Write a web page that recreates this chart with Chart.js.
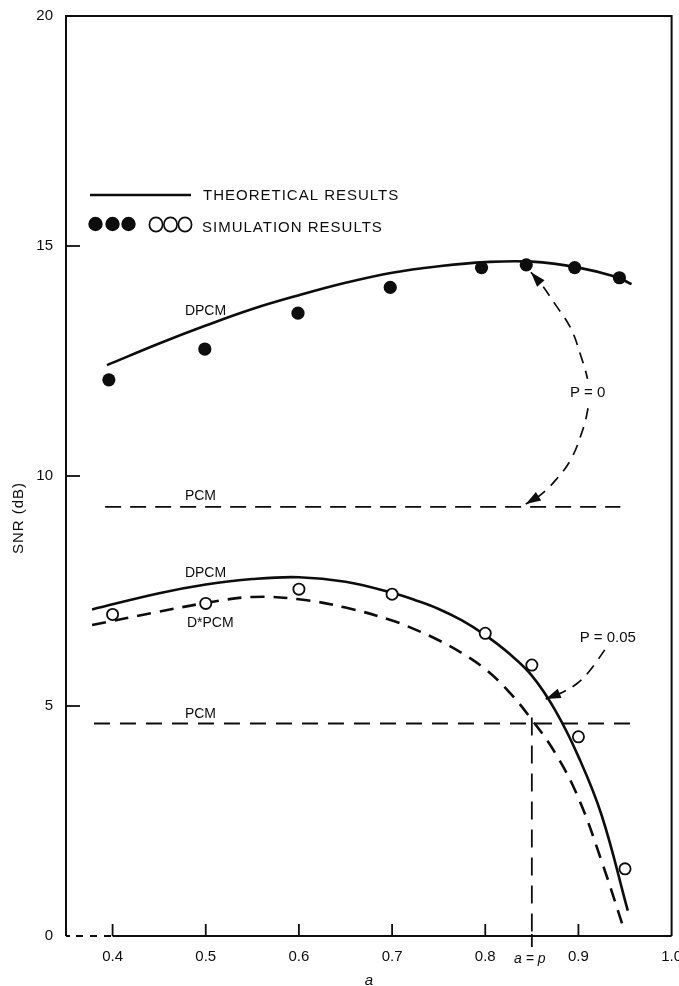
<!DOCTYPE html>
<html><head><meta charset="utf-8">
<script src="https://cdn.jsdelivr.net/npm/chart.js@4.4.1/dist/chart.umd.min.js"></script>
<style>html,body{margin:0;padding:0;background:#fff}canvas{display:block}</style>
</head><body>
<canvas id="c" width="679" height="986"></canvas>
<script>
// ---------- data ----------
const xTicks = [0.4, 0.5, 0.6, 0.7, 0.8, 0.9, 1.0];
const yTicks = [0, 5, 10, 15, 20];
// P = 0
const simX0  = [0.396, 0.499, 0.599, 0.698, 0.796, 0.844, 0.896, 0.944];
const simY0  = [12.09, 12.76, 13.54, 14.10, 14.53, 14.59, 14.53, 14.31];
const theoX0 = [0.394, 0.45, 0.5, 0.55, 0.6, 0.65, 0.7, 0.75, 0.8, 0.85, 0.9, 0.94, 0.957];
const theoY0 = [12.41, 12.88, 13.27, 13.63, 13.93, 14.20, 14.42, 14.56, 14.65, 14.66, 14.53, 14.33, 14.17];
const pcmX0  = [0.392, 0.945];
const pcmY0  = [9.33, 9.33];
// P = 0.05
const simX5   = [0.4, 0.5, 0.6, 0.7, 0.8, 0.85, 0.9, 0.95];
const simY5   = [6.99, 7.23, 7.54, 7.43, 6.58, 5.89, 4.33, 1.46];
const theoX5  = [0.378, 0.45, 0.5, 0.55, 0.6, 0.65, 0.7, 0.725, 0.75, 0.775, 0.8, 0.825, 0.85, 0.875, 0.9, 0.925, 0.953];
const theoY5  = [7.10, 7.45, 7.64, 7.76, 7.80, 7.70, 7.46, 7.30, 7.11, 6.86, 6.54, 6.15, 5.66, 4.91, 3.90, 2.62, 0.55];
const dstarX5 = [0.378, 0.45, 0.5, 0.55, 0.6, 0.65, 0.7, 0.725, 0.75, 0.775, 0.8, 0.825, 0.85, 0.875, 0.9, 0.925, 0.948];
const dstarY5 = [6.76, 7.05, 7.24, 7.37, 7.32, 7.14, 6.86, 6.66, 6.43, 6.15, 5.80, 5.32, 4.70, 3.98, 3.00, 1.62, 0.20];
const pcmX5   = [0.38, 0.959];
const pcmY5   = [4.62, 4.62];
const aEqualsP = 0.85;
const aEqualsPLineY = [4.75, 0];
// annotation arrows (data coordinates)
const arcP0X = [0.849, 0.859, 0.8755, 0.8916, 0.9023, 0.9099, 0.9109, 0.9099, 0.9034, 0.8916, 0.8755, 0.8594, 0.8435];
const arcP0Y = [14.43, 14.20, 13.72, 13.22, 12.63, 12.09, 11.76, 11.43, 10.93, 10.35, 9.91, 9.59, 9.39];
const arcP5X = [0.9282, 0.9207, 0.9110, 0.8992, 0.8831, 0.8649];
const arcP5Y = [6.22, 6.00, 5.74, 5.50, 5.30, 5.15];

// ---------- helpers ----------
const pts = (xs, ys) => xs.map((x, i) => ({x, y: ys[i]}));
const INK = '#0d0d0d';
const FONT = '"Liberation Sans", Arial, Helvetica, sans-serif';

const labels = [
  {text: 'DPCM',     x: 0.4776, y: 13.50, align: 'left'},
  {text: 'PCM',      x: 0.4776, y: 9.48,  align: 'left'},
  {text: 'DPCM',     x: 0.4776, y: 7.80,  align: 'left'},
  {text: 'D*PCM',    x: 0.4798, y: 6.72,  align: 'left'},
  {text: 'PCM',      x: 0.4776, y: 4.74,  align: 'left'},
  {text: 'P = 0',    x: 0.9099, y: 11.72, align: 'center', bg: true, size: 15},
  {text: 'P = 0.05', x: 0.9013, y: 6.40,  align: 'left', size: 15}
];

function arrowHead(ctx, x0, y0, x1, y1, len, half) {
  const a = Math.atan2(y1 - y0, x1 - x0);
  ctx.beginPath();
  ctx.moveTo(x1, y1);
  ctx.lineTo(x1 - len * Math.cos(a) + half * Math.sin(a), y1 - len * Math.sin(a) - half * Math.cos(a));
  ctx.lineTo(x1 - len * Math.cos(a) - half * Math.sin(a), y1 - len * Math.sin(a) + half * Math.cos(a));
  ctx.closePath();
  ctx.fill();
}

const decor = {
  id: 'decor',
  afterDraw(chart) {
    const ctx = chart.ctx, xs = chart.scales.x, ys = chart.scales.y;
    const {left, right, top, bottom} = chart.chartArea;
    ctx.save();
    ctx.strokeStyle = INK; ctx.fillStyle = INK;
    // frame
    ctx.lineWidth = 2;
    ctx.setLineDash([]);
    ctx.beginPath();
    ctx.moveTo(left, bottom); ctx.lineTo(left, top); ctx.lineTo(right, top); ctx.lineTo(right, bottom);
    ctx.stroke();
    const x04 = xs.getPixelForValue(xTicks[0]);
    ctx.beginPath(); ctx.moveTo(x04, bottom); ctx.lineTo(right, bottom); ctx.stroke();
    ctx.beginPath(); ctx.moveTo(left, bottom); ctx.lineTo(left + 4, bottom); ctx.stroke();
    ctx.setLineDash([7, 7]);
    ctx.beginPath(); ctx.moveTo(left + 10, bottom); ctx.lineTo(x04, bottom); ctx.stroke();
    ctx.setLineDash([]);
    // inward ticks
    ctx.lineWidth = 1.8;
    yTicks.forEach(v => {
      if (v === ys.min || v === ys.max) return;
      const p = ys.getPixelForValue(v);
      ctx.beginPath(); ctx.moveTo(left, p); ctx.lineTo(left + 14, p); ctx.stroke();
    });
    xTicks.forEach(v => {
      if (v === xs.max) return;
      const p = xs.getPixelForValue(v);
      ctx.beginPath(); ctx.moveTo(p, bottom); ctx.lineTo(p, bottom - 12); ctx.stroke();
    });
    // a = p tick below axis
    const xp = xs.getPixelForValue(aEqualsP);
    ctx.beginPath(); ctx.moveTo(xp, bottom - 2); ctx.lineTo(xp, bottom + 11); ctx.stroke();
    ctx.font = 'italic 14px ' + FONT;
    ctx.textAlign = 'center'; ctx.textBaseline = 'alphabetic';
    ctx.fillText('a = p', xp - 2, bottom + 27);

    // arrowheads
    const px = (x) => xs.getPixelForValue(x), py = (y) => ys.getPixelForValue(y);
    const n0 = arcP0X.length;
    arrowHead(ctx, px(arcP0X[1]), py(arcP0Y[1]), px(arcP0X[0]), py(arcP0Y[0]), 15, 5);
    arrowHead(ctx, px(arcP0X[n0 - 2]), py(arcP0Y[n0 - 2]), px(arcP0X[n0 - 1]), py(arcP0Y[n0 - 1]), 15, 5);
    const n5 = arcP5X.length;
    arrowHead(ctx, px(arcP5X[n5 - 2]), py(arcP5Y[n5 - 2]), px(arcP5X[n5 - 1]), py(arcP5Y[n5 - 1]), 15, 5);

    // curve labels
    labels.forEach(l => {
      const size = l.size || 14;
      ctx.font = size + 'px ' + FONT;
      ctx.textAlign = l.align; ctx.textBaseline = 'alphabetic';
      const X = px(l.x), Y = py(l.y);
      if (l.bg) {
        const w = ctx.measureText(l.text).width;
        ctx.fillStyle = '#fff';
        ctx.fillRect(X - w / 2 - 4, Y - size - 3, w + 8, size + 10);
        ctx.fillStyle = INK;
      }
      ctx.fillText(l.text, X, Y);
    });

    // legend
    ctx.lineWidth = 2.4;
    ctx.beginPath(); ctx.moveTo(left + 24, 195); ctx.lineTo(left + 125, 195); ctx.stroke();
    ctx.font = '15px ' + FONT; ctx.textAlign = 'left';
    ctx.letterSpacing = '1px';
    ctx.fillText('THEORETICAL RESULTS', left + 137, 199.5);
    ctx.fillText('SIMULATION RESULTS', left + 136, 231.5);
    ctx.letterSpacing = '0px';
    [29.5, 46.5, 62.5].forEach(dx => { ctx.beginPath(); ctx.arc(left + dx, 224, 7.2, 0, Math.PI * 2); ctx.fill(); });
    ctx.lineWidth = 1.7;
    [90, 104.5, 119].forEach(dx => { ctx.beginPath(); ctx.ellipse(left + dx, 224.5, 6.6, 7.2, 0, 0, Math.PI * 2); ctx.stroke(); });

    // axis titles
    ctx.font = 'italic 15px ' + FONT; ctx.textAlign = 'center';
    ctx.fillText('a', (left + right) / 2, 985);
    ctx.save();
    ctx.translate(23, 518); ctx.rotate(-Math.PI / 2);
    ctx.font = '15px ' + FONT; ctx.letterSpacing = '1px';
    ctx.fillText('SNR (dB)', 0, 0);
    ctx.restore();
    ctx.restore();
  }
};

const lineDs = (label, data, extra) => Object.assign({
  label, data, borderColor: INK, backgroundColor: INK, borderWidth: 2.6,
  pointRadius: 0, fill: false, cubicInterpolationMode: 'default', tension: 0.4, order: 2
}, extra);

new Chart(document.getElementById('c'), {
  type: 'line',
  data: {
    datasets: [
      {label: 'Simulation P=0', data: pts(simX0, simY0), showLine: false, pointRadius: 6.6,
       pointBackgroundColor: INK, pointBorderColor: INK, pointBorderWidth: 0, order: 0},
      {label: 'Simulation P=0.05', data: pts(simX5, simY5), showLine: false, pointRadius: 5.6,
       pointBackgroundColor: '#fff', pointBorderColor: INK, pointBorderWidth: 1.8, order: 0},
      lineDs('DPCM theory P=0', pts(theoX0, theoY0)),
      lineDs('PCM P=0', pts(pcmX0, pcmY0), {borderWidth: 1.8, borderDash: [16, 9], tension: 0}),
      lineDs('DPCM theory P=0.05', pts(theoX5, theoY5)),
      lineDs('D*PCM P=0.05', pts(dstarX5, dstarY5), {borderWidth: 2.6, borderDash: [14, 9]}),
      lineDs('PCM P=0.05', pts(pcmX5, pcmY5), {borderWidth: 1.8, borderDash: [16, 10], tension: 0}),
      lineDs('a=p', [{x: aEqualsP, y: aEqualsPLineY[0]}, {x: aEqualsP, y: aEqualsPLineY[1]}], {borderWidth: 1.8, borderDash: [18, 10], tension: 0}),
      lineDs('arrow P=0', pts(arcP0X, arcP0Y), {borderWidth: 1.7, borderDash: [11, 8]}),
      lineDs('arrow P=0.05', pts(arcP5X, arcP5Y), {borderWidth: 1.7, borderDash: [11, 8]})
    ]
  },
  options: {
    responsive: false, animation: false, devicePixelRatio: 1,
    layout: {padding: {left: 0, right: 7, top: 16, bottom: 0}},
    plugins: {legend: {display: false}, tooltip: {enabled: false}},
    scales: {
      x: {
        type: 'linear', min: 0.35, max: 1.0,
        grid: {display: false, drawTicks: false}, border: {display: false},
        ticks: {font: {family: FONT, size: 15}, color: INK, padding: 12, maxRotation: 0, autoSkip: false,
                callback: v => Number(v).toFixed(1)},
        afterBuildTicks: s => { s.ticks = xTicks.map(v => ({value: v})); },
        afterFit: s => { s.height = 50; s.paddingLeft = 0; s.paddingRight = 0; }
      },
      y: {
        type: 'linear', min: 0, max: 20,
        grid: {display: false, drawTicks: false}, border: {display: false},
        ticks: {font: {family: FONT, size: 15}, color: INK, padding: 13, autoSkip: false,
                callback: v => String(v)},
        afterBuildTicks: s => { s.ticks = yTicks.map(v => ({value: v})); },
        afterFit: s => { s.width = 66; s.paddingTop = 0; s.paddingBottom = 0; }
      }
    }
  },
  plugins: [decor]
});
</script>
</body></html>
